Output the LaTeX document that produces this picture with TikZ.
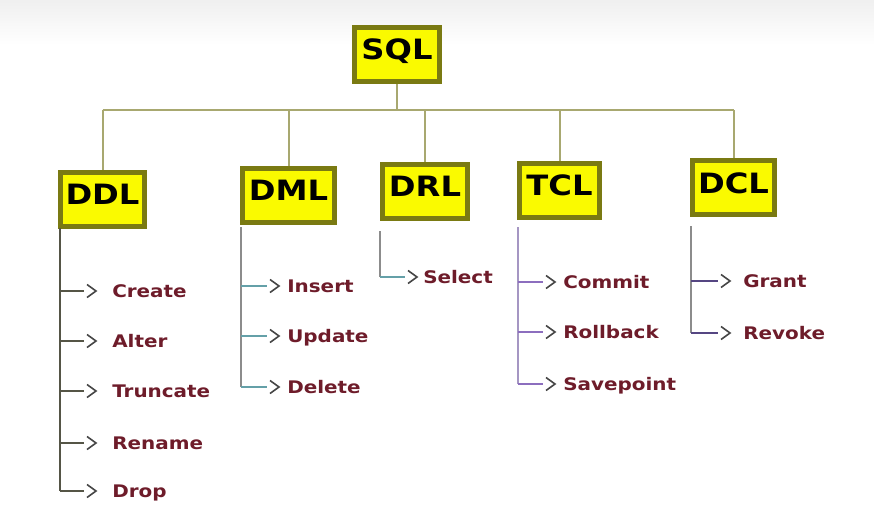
\documentclass[tikz,border=0pt]{standalone}
\usepackage{fontspec}
\newfontfamily\diafont{DejaVu Sans}[FakeStretch=1.15]

\definecolor{boxyellow}{RGB}{250,250,0}
\definecolor{boxolive}{RGB}{122,122,18}
\definecolor{busline}{RGB}{168,168,112}
\definecolor{itemred}{RGB}{110,28,42}
\definecolor{ddlgray}{RGB}{85,85,70}
\definecolor{trunkgray}{RGB}{140,140,140}
\definecolor{dmlteal}{RGB}{100,160,168}
\definecolor{tcllav}{RGB}{165,150,195}
\definecolor{tclpurple}{RGB}{140,110,190}
\definecolor{dclpurple}{RGB}{85,70,130}
\definecolor{chevgray}{RGB}{70,70,70}

\begin{document}
\begin{tikzpicture}[
    x=0.75pt, y=-0.75pt,
    ltype/.style = {
        draw=boxolive, fill=boxyellow, line width=3.75pt,
        inner sep=0pt, minimum height=40.5pt, text depth=7pt,
        font=\diafont\bfseries\fontsize{21}{22}\selectfont
    },
    item/.style = {
        anchor=west, inner sep=0pt, text height=9.5pt, text depth=0pt,
        text=itemred, font=\diafont\bfseries\fontsize{13}{14}\selectfont
    },
    bus/.style = {draw=busline, line width=1.5pt},
    trunk/.style = {line width=1.5pt},
    twig/.style = {line width=1.2pt},
    chev/.pic = {\draw[chevgray, line width=1.2pt] (3,-6.5) -- (12,0) -- (3,6.5);},
]

%% ── Page ────────────────────────────────────────────────────────────
\useasboundingbox (0,0) rectangle (874,507);
\fill[white] (0,0) rectangle (874,507);
\shade[top color=black!6, bottom color=white] (0,0) rectangle (874,45);

%% ── Language boxes ──────────────────────────────────────────────────
\node[ltype, minimum width=64pt]   (sql) at (397,54)    {SQL};
\node[ltype, minimum width=63pt]   (ddl) at (102.5,199) {DDL};
\node[ltype, minimum width=69pt]   (dml) at (288.5,195) {DML};
\node[ltype, minimum width=64pt]   (drl) at (425,191)   {DRL};
\node[ltype, minimum width=60pt]   (tcl) at (559.5,190) {TCL};
\node[ltype, minimum width=61.5pt] (dcl) at (733.5,187.5) {DCL};

%% ── Bus from SQL down to the five groups ────────────────────────────
\coordinate (bus) at (397,110);
\draw[bus] (sql.south) -- (sql.south |- bus);
\draw[bus] (ddl.north |- bus) -- (dcl.north |- bus);
\draw[bus] (ddl.north |- bus) -- (ddl.north);
\draw[bus] (dml.north |- bus) -- (dml.north);
\draw[bus] (drl.north |- bus) -- (drl.north);
\draw[bus] (tcl.north |- bus) -- (tcl.north);
\draw[bus] (dcl.north |- bus) -- (dcl.north);

%% Trunk tops (just under each box)
\coordinate (ddltop) at (60,228);
\coordinate (dmltop) at (241,227);
\coordinate (drltop) at (380,231);
\coordinate (tcltop) at (518,227);
\coordinate (dcltop) at (691,226);

%% ── DDL ─────────────────────────────────────────────────────────────
\node[item] (create)   at (112,291) {Create};
\node[item] (alter)    at (112,341) {Alter};
\node[item] (truncate) at (112,391) {Truncate};
\node[item] (rename)   at (112,443) {Rename};
\node[item] (drop)     at (112,491) {Drop};
\draw[trunk, ddlgray] (ddltop) -- (ddltop |- drop);
\draw[twig, ddlgray] (ddltop |- create) -- ([xshift=-21pt]create.west) pic {chev};
\draw[twig, ddlgray] (ddltop |- alter) -- ([xshift=-21pt]alter.west) pic {chev};
\draw[twig, ddlgray] (ddltop |- truncate) -- ([xshift=-21pt]truncate.west) pic {chev};
\draw[twig, ddlgray] (ddltop |- rename) -- ([xshift=-21pt]rename.west) pic {chev};
\draw[twig, ddlgray] (ddltop |- drop) -- ([xshift=-21pt]drop.west) pic {chev};

%% ── DML ─────────────────────────────────────────────────────────────
\node[item] (insert) at (287,286) {Insert};
\node[item] (update) at (287,336) {Update};
\node[item] (delete) at (287,387) {Delete};
\draw[trunk, trunkgray] (dmltop) -- (dmltop |- delete);
\draw[twig, dmlteal] (dmltop |- insert) -- ([xshift=-15pt]insert.west) pic {chev};
\draw[twig, dmlteal] (dmltop |- update) -- ([xshift=-15pt]update.west) pic {chev};
\draw[twig, dmlteal] (dmltop |- delete) -- ([xshift=-15pt]delete.west) pic {chev};

%% ── DRL ─────────────────────────────────────────────────────────────
\node[item] (select) at (423,277) {Select};
\draw[trunk, trunkgray] (drltop) -- (drltop |- select);
\draw[twig, dmlteal] (drltop |- select) -- ([xshift=-13.5pt]select.west) pic {chev};

%% ── TCL ─────────────────────────────────────────────────────────────
\node[item] (commit)    at (563,282) {Commit};
\node[item] (rollback)  at (563,332) {Rollback};
\node[item] (savepoint) at (563,384) {Savepoint};
\draw[trunk, tcllav] (tcltop) -- (tcltop |- savepoint);
\draw[twig, tclpurple] (tcltop |- commit) -- ([xshift=-15pt]commit.west) pic {chev};
\draw[twig, tclpurple] (tcltop |- rollback) -- ([xshift=-15pt]rollback.west) pic {chev};
\draw[twig, tclpurple] (tcltop |- savepoint) -- ([xshift=-15pt]savepoint.west) pic {chev};

%% ── DCL ─────────────────────────────────────────────────────────────
\node[item] (grant)  at (743,281) {Grant};
\node[item] (revoke) at (743,333) {Revoke};
\draw[trunk, trunkgray] (dcltop) -- (dcltop |- revoke);
\draw[twig, dclpurple] (dcltop |- grant) -- ([xshift=-18.75pt]grant.west) pic {chev};
\draw[twig, dclpurple] (dcltop |- revoke) -- ([xshift=-18.75pt]revoke.west) pic {chev};

\end{tikzpicture}
\end{document}
